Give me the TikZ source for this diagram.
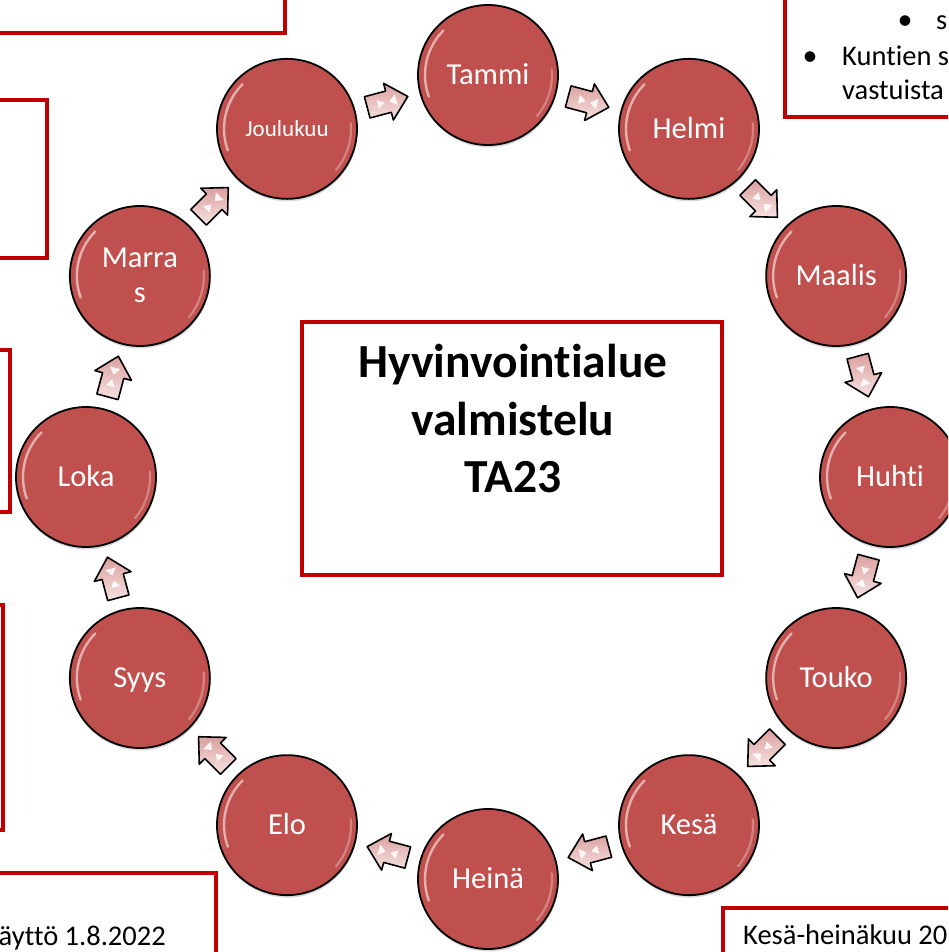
\documentclass[tikz,border=0pt]{standalone}
\usepackage{fontspec}
\setmainfont{Carlito}[RawFeature={-liga}]
\usetikzlibrary{shadows,calc}
\definecolor{boxred}{RGB}{192,0,0}
\definecolor{ballred}{RGB}{192,80,77}
\definecolor{arrowtop}{RGB}{218,160,158}
\definecolor{arrowbot}{RGB}{246,226,226}
\begin{document}
\begin{tikzpicture}[x=1pt,y=1pt,
  month/.style={circle, draw=black, line width=1.8pt, fill=ballred, minimum size=140pt, inner sep=0pt,
    drop shadow={shadow xshift=0.5pt, shadow yshift=-2.5pt, opacity=0.3}},
  monthlabel/.style={text=white, font=\fontsize{30.5}{36}\selectfont, anchor=base, inner sep=0pt},
  sidebox/.style={draw=boxred, line width=3.4pt},
  boxtext/.style={font=\fontsize{28.5}{34}\selectfont, inner sep=0pt, text=black},
  bullet/.style={font=\fontsize{30}{34}\selectfont, inner sep=0pt, text=black, anchor=base},
  hubtext/.style={font=\fontsize{47.5}{57}\selectfont\bfseries, inner sep=0pt, anchor=base},
  gloss/.style={white, line cap=round},
  pics/cyclearrow/.style={code={
     \path[draw=black, line width=1.6pt, line join=round, top color=arrowtop, bottom color=arrowbot]
        (-21,-11) -- (1,-11) -- (1,-19) -- (21,0) -- (1,19) -- (1,11) -- (-21,11) -- cycle;
     \fill[white, opacity=0.85] (-10,-4.5) -- (-3,0) -- (-10,4.5) -- cycle;
     \fill[white, opacity=0.85] (9,-5.5) -- (2,0) -- (9,5.5) -- cycle;
  }}
]
\useasboundingbox (0,0) rectangle (948,-952);
\clip (0,0) rectangle (948,-952);

% partial side boxes
\draw[sidebox] (-50,-33) rectangle (285,50);
\draw[sidebox] (-50,-100) rectangle (47,-258);
\draw[sidebox] (-50,-350) rectangle (10,-512);
\draw[sidebox] (-50,-605) rectangle (3,-830);
\draw[sidebox] (-50,-873) rectangle (216,-1000);
\draw[sidebox] (723,-908) rectangle (1000,-1000);
\draw[sidebox] (785,-117) rectangle (1000,50);

\node[bullet] (b1) at (905,-30) {•};
\node[boxtext, anchor=base west] (s1) at (936,-30) {s};
\node[bullet] (b2) at (810,-66) {•};
\node[boxtext, anchor=base west] (k1) at (842,-66) {Kuntien s};
\node[boxtext, anchor=base west] (k2) at (842,-100) {vastuista};
\node[boxtext, anchor=base east] (d1) at (166,-945) {äyttö 1.8.2022};
\node[boxtext, anchor=base west] (d2) at (743,-944) {Kesä-heinäkuu 20};

% centre box
\node[sidebox, minimum width=420pt, minimum height=253pt, inner sep=0pt] (hub) at (512,-448.5) {};
\node[hubtext] (h1) at (513,-377) {Hyvinvointialue};
\node[hubtext] (h2) at (513,-435) {valmistelu};
\node[hubtext] (h3) at (513,-492) {TA23};

% month circles
\foreach \i in {0,...,11}{
  \node[month] (c\i) at ({488+402*cos(90-30*\i)}, {-477+402*sin(90-30*\i)}) {};
  \draw[gloss, opacity=0.55, line width=2.4pt] (c\i.center) ++(135:63) arc[start angle=135, end angle=200, radius=63];
  \draw[gloss, opacity=0.3, line width=2.2pt] (c\i.center) ++(-40:64) arc[start angle=-40, end angle=5, radius=64];
}

% arrows between circles
\foreach \i in {0,...,11}{
  \pgfmathtruncatemacro\j{mod(\i+1,12)}
  \pic[rotate={-15-30*\i}] at ($(c\i)!0.5!(c\j)$) {cyclearrow};
}

% labels
\node[monthlabel] (l0) at ($(c0.center)+(0,-9.8)$) {Tammi};
\node[monthlabel] (l1) at ($(c1.center)+(0,-9.8)$) {Helmi};
\node[monthlabel] (l2) at ($(c2.center)+(0,-9.8)$) {Maalis};
\node[monthlabel] (l3) at ($(c3.center)+(0,-9.8)$) {Huhti};
\node[monthlabel] (l4) at ($(c4.center)+(0,-9.8)$) {Touko};
\node[monthlabel] (l5) at ($(c5.center)+(0,-9.8)$) {Kesä};
\node[monthlabel] (l6) at ($(c6.center)+(0,-9.8)$) {Heinä};
\node[monthlabel] (l7) at ($(c7.center)+(0,-9.8)$) {Elo};
\node[monthlabel] (l8) at ($(c8.center)+(0,-9.8)$) {Syys};
\node[monthlabel] (l9) at ($(c9.center)+(0,-9.8)$) {Loka};
\node[monthlabel] (l10a) at ($(c10.center)+(0,9)$) {Marra};
\node[monthlabel] (l10b) at ($(c10.center)+(0,-26)$) {s};
\node[monthlabel, font=\fontsize{23}{28}\selectfont] (l11) at ($(c11.center)+(0,-7.4)$) {Joulukuu};
\end{tikzpicture}
\end{document}
